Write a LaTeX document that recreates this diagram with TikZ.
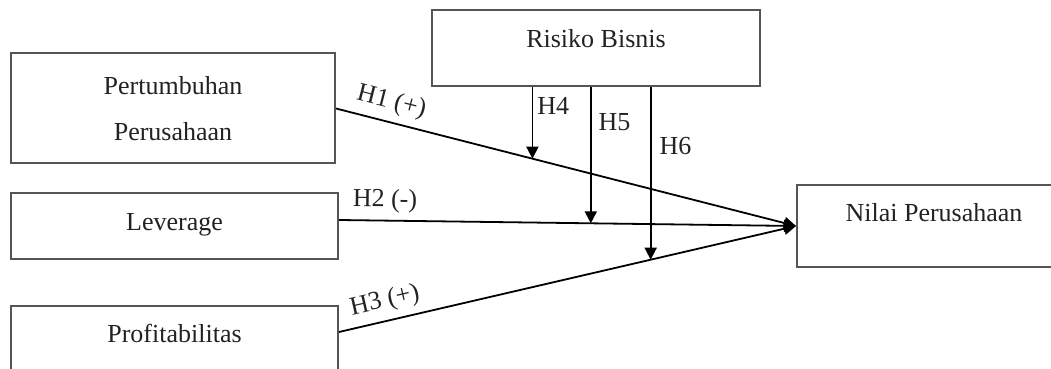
\documentclass[tikz,border=0pt]{standalone}
\usepackage{fontspec}
\setmainfont{Liberation Serif}
\usetikzlibrary{arrows.meta}
\definecolor{boxgray}{HTML}{555555}
\definecolor{inkgray}{HTML}{222222}

\begin{document}
\begin{tikzpicture}[x=0.5pt,y=-0.5pt,>={Triangle[length=6pt,width=6pt]},
  font=\fontsize{13}{15.6}\selectfont,text=inkgray,
  box/.style={draw=boxgray,line width=1pt,inner sep=0pt},
  link/.style={->,line width=0.9pt},
  hyp/.style={inner sep=2pt}]
\useasboundingbox (0,0) rectangle (1051,369);
\clip (0,0) rectangle (1051,369);
% variables
\node[box,minimum width=162pt,minimum height=55pt,align=center] (pert) at (173,108.5) {Pertumbuhan\\[7.4pt]Perusahaan};
\node[box,minimum width=163.5pt,minimum height=33pt,text height=9pt,text depth=4.9pt] (lev) at (174.5,226) {Leverage};
\node[box,minimum width=163.5pt,minimum height=38pt,text height=9pt,text depth=10.4pt] (prof) at (174.5,344) {Profitabilitas};
\node[box,minimum width=164pt,minimum height=38pt,text height=9pt,text depth=9.4pt] (risk) at (596,48) {Risiko Bisnis};
\node[box,minimum width=137pt,minimum height=41pt,text height=9pt,text depth=13.9pt] (nilai) at (934,226) {Nilai Perusahaan};
% hypotheses
\draw[link] (pert.east) -- node[hyp,sloped,above=1.5pt,pos=0.11] {H1 (+)} coordinate[pos=0.427] (m4) (nilai.west);
\draw[link] ([yshift=3pt]lev.east) -- node[hyp,sloped,above=1.5pt,pos=0.1] {H2 (-)} coordinate[pos=0.551] (m5) (nilai.west);
\draw[link] ([yshift=6pt]prof.east) -- node[hyp,sloped,above=1.5pt,pos=0.11] {H3 (+)} coordinate[pos=0.682] (m6) (nilai.west);
\foreach \m/\t/\p/\s in {m4/H4/0.26/0pt,m5/H5/0.26/1.5pt,m6/H6/0.34/2pt}
  \draw[link] (risk.south -| \m) -- (\m) node[hyp,right,pos=\p,xshift=\s] {\t};
\end{tikzpicture}
\end{document}
